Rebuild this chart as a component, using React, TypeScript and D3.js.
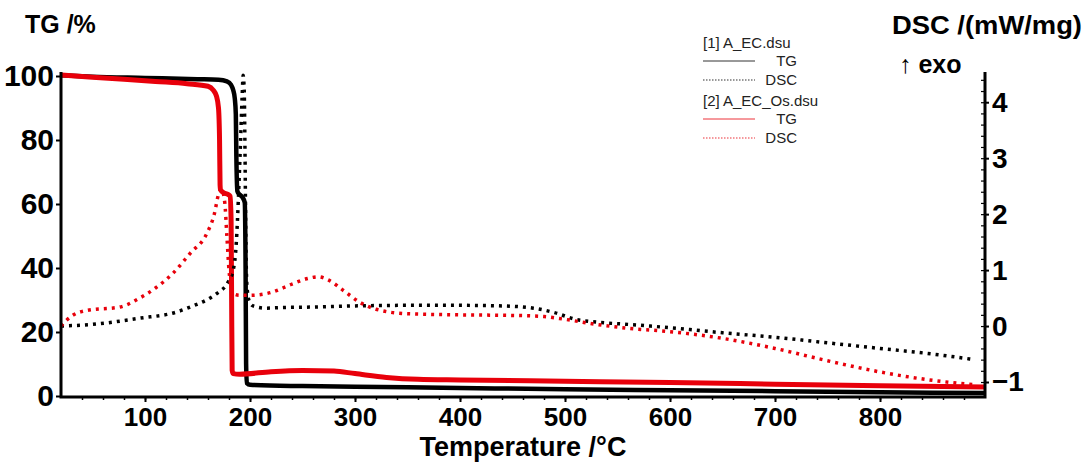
import React, { useEffect, useRef } from "react";
import * as d3 from "d3";

const WIDTH = 1088;
const HEIGHT = 464;

// sample 1: A_EC
const tBlackTG = [20, 50, 100, 150, 170, 178, 182, 184, 185.5, 186.5, 187, 188, 190, 193, 195, 195.8, 196.3, 197, 200, 250, 300, 400, 500, 600, 700, 800, 900];
const blackTG = [100.2, 99.8, 99.4, 99.0, 98.8, 98.3, 97.2, 95.6, 93, 88, 75, 64, 63, 62, 60.5, 40, 10, 4, 3.5, 3.1, 2.9, 2.5, 2.1, 1.8, 1.5, 1.2, 0.9];

const tBlackDSC = [20, 50, 95, 130, 143, 160, 169, 179, 184, 187, 189, 191, 192.5, 193.5, 194.5, 195.3, 196, 197, 199, 203, 215, 230, 260, 300, 350, 400, 440, 470, 490, 510, 530, 560, 600, 650, 700, 750, 800, 850, 890];
const blackDSC = [0.0, 0.03, 0.14, 0.25, 0.34, 0.48, 0.59, 0.78, 1.0, 1.5, 2.3, 3.3, 4.1, 4.48, 4.2, 3.0, 1.6, 0.75, 0.46, 0.36, 0.32, 0.33, 0.34, 0.36, 0.37, 0.37, 0.36, 0.32, 0.24, 0.12, 0.07, 0.03, -0.03, -0.12, -0.2, -0.3, -0.4, -0.5, -0.6];

// sample 2: A_EC_Os
const tRedTG = [20, 50, 80, 110, 140, 160, 165, 168, 170, 171, 171.5, 172, 175, 179, 181, 182, 182.5, 183, 184, 190, 220, 250, 280, 300, 330, 360, 400, 500, 600, 700, 800, 900];
const redTG = [100.3, 99.6, 99.0, 98.3, 97.6, 96.8, 95.6, 93.8, 90, 80, 66, 64.4, 63.5, 63, 62.5, 55, 30, 8, 7.0, 6.8, 7.6, 8.0, 7.8, 7.0, 5.8, 5.2, 5.0, 4.6, 4.2, 3.7, 3.2, 2.8];

const tRedDSC = [20, 25, 32, 45, 76, 95, 110, 127, 143, 159, 166, 170, 173, 176, 178, 180, 182, 184, 190, 200, 220, 240, 255, 265, 275, 290, 305, 320, 350, 400, 450, 480, 500, 530, 560, 600, 650, 700, 750, 800, 850, 890];
const redDSC = [0.0, 0.1, 0.2, 0.28, 0.34, 0.5, 0.68, 0.95, 1.3, 1.66, 2.0, 2.35, 2.45, 2.2, 1.6, 1.0, 0.7, 0.58, 0.55, 0.55, 0.6, 0.75, 0.85, 0.88, 0.82, 0.62, 0.42, 0.3, 0.22, 0.2, 0.19, 0.17, 0.12, 0.03, -0.04, -0.1, -0.22, -0.4, -0.62, -0.82, -0.97, -1.05];

const xTicks = [100, 200, 300, 400, 500, 600, 700, 800];
const tgTicks = [0, 20, 40, 60, 80, 100];
const dscTicks = [-1, 0, 1, 2, 3, 4];

const legendFiles = ["[1] A_EC.dsu", "[2] A_EC_Os.dsu"];
const legendColors = ["#000", "#e8000b"];

const FONT = "'Liberation Sans', Arial, sans-serif";
const RED = "#e8000b";

export default function App() {
  const ref = useRef<SVGGElement>(null);

  useEffect(() => {
    const root = d3.select(ref.current);
    root.selectAll("*").remove();

    const x = d3.scaleLinear().domain([20, 900]).range([61, 985]);
    const yTG = d3.scaleLinear().domain([0, 101.25]).range([396, 72]);
    const yDSC = d3.scaleLinear().domain([-1.25, 4.54]).range([396, 72]);

    const zip = (t: number[], v: number[]) => t.map((d, i) => [d, v[i]] as [number, number]);

    const tgLine = d3
      .line<[number, number]>()
      .x((d) => x(d[0]))
      .y((d) => yTG(d[1]))
      .curve(d3.curveMonotoneX);
    const dscLine = d3
      .line<[number, number]>()
      .x((d) => x(d[0]))
      .y((d) => yDSC(d[1]))
      .curve(d3.curveMonotoneX);

    const plot = root.append("g").attr("fill", "none");
    plot.append("path").attr("d", tgLine(zip(tBlackTG, blackTG))).attr("stroke", "#000").attr("stroke-width", 4.5);
    plot.append("path").attr("d", tgLine(zip(tRedTG, redTG))).attr("stroke", RED).attr("stroke-width", 5);
    plot.append("path").attr("d", dscLine(zip(tBlackDSC, blackDSC))).attr("stroke", "#000").attr("stroke-width", 3.5).attr("stroke-dasharray", "3 5");
    plot.append("path").attr("d", dscLine(zip(tRedDSC, redDSC))).attr("stroke", RED).attr("stroke-width", 3.5).attr("stroke-dasharray", "3 5");

    const styleText = (sel: any, size: number) =>
      sel
        .selectAll("text")
        .attr("font-size", size)
        .attr("font-weight", "bold")
        .attr("font-family", FONT)
        .attr("fill", "#000");

    // bottom axis: minor ticks every 20 °C, labels every 100 °C
    const bMinor = root.append("g").attr("transform", "translate(0,396)");
    bMinor
      .call(d3.axisBottom(x).tickValues(d3.range(40, 900, 20)).tickSize(4).tickFormat(() => ""))
      .call((g) => g.select(".domain").remove());
    bMinor.selectAll(".tick line").attr("stroke-width", 1.5);
    const bMajor = root.append("g").attr("transform", "translate(0,396)");
    bMajor
      .call(d3.axisBottom(x).tickValues(xTicks).tickSize(6).tickPadding(6))
      .call((g) => g.select(".domain").remove());
    styleText(bMajor, 26);
    bMajor.selectAll(".tick line").attr("stroke-width", 2);

    // left axis (TG)
    const left = root.append("g").attr("transform", "translate(61,0)");
    left
      .call(d3.axisLeft(yTG).tickValues(tgTicks).tickSize(5).tickPadding(2))
      .call((g) => g.select(".domain").remove());
    styleText(left, 30);
    left.selectAll(".tick line").attr("stroke-width", 2);

    // right axis (DSC)
    const rMinor = root.append("g").attr("transform", "translate(984,0)");
    rMinor
      .call(d3.axisLeft(yDSC).tickValues(d3.range(-1.2, 4.5, 0.2)).tickSize(3).tickFormat(() => ""))
      .call((g) => g.select(".domain").remove());
    rMinor.selectAll(".tick line").attr("stroke-width", 1.2);
    const rMajor = root.append("g").attr("transform", "translate(984,0)");
    rMajor
      .call(
        d3
          .axisRight(yDSC)
          .tickValues(dscTicks)
          .tickSize(5)
          .tickPadding(3)
          .tickFormat((d) => ((d as number) < 0 ? "\u2212" + Math.abs(d as number) : String(d)))
      )
      .call((g) => g.select(".domain").remove());
    styleText(rMajor, 28);
    rMajor.selectAll(".tick line").attr("stroke-width", 2);

    // axis lines
    root
      .append("path")
      .attr("d", "M61,72 V397 H985 V72")
      .attr("fill", "none")
      .attr("stroke", "#000")
      .attr("stroke-width", 3);
  }, []);

  return (
    <svg width={WIDTH} height={HEIGHT} style={{ position: "absolute", left: 0, top: 0, background: "#fff" }}>
      <rect width={WIDTH} height={HEIGHT} fill="#fff" />
      <g ref={ref} />
      <g fontFamily={FONT} fontWeight="bold" fill="#000">
        <text x={25} y={33} fontSize={25}>TG /%</text>
        <text x={892} y={34} fontSize={25} textLength={190} lengthAdjust="spacingAndGlyphs">
          DSC /(mW/mg)
        </text>
        <text x={899} y={73} fontSize={25}>
          <tspan fontWeight="normal">↑</tspan> exo
        </text>
        <text x={523} y={456} fontSize={27} textAnchor="middle">Temperature /°C</text>
      </g>
      <g fontFamily={FONT} fontSize={15} fill="#222">
        {legendFiles.map((name, i) => {
          const y0 = 43 + i * 58;
          const c = legendColors[i];
          return (
            <g key={name}>
              <text x={703} y={y0 + 5}>{name}</text>
              <line x1={703} x2={755} y1={y0 + 18} y2={y0 + 18} stroke={c} strokeWidth={1} opacity={0.8} />
              <text x={797} y={y0 + 23} textAnchor="end">TG</text>
              <line x1={703} x2={755} y1={y0 + 37} y2={y0 + 37} stroke={c} strokeWidth={1.2} strokeDasharray="1.5 1.5" opacity={0.8} />
              <text x={797} y={y0 + 42} textAnchor="end">DSC</text>
            </g>
          );
        })}
      </g>
    </svg>
  );
}
